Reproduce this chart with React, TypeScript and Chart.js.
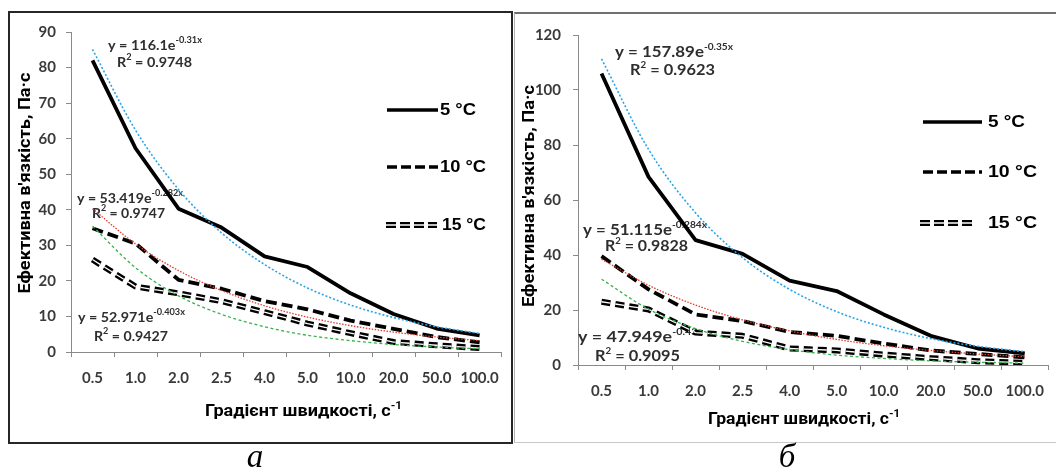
import { useEffect, useRef } from "react";
import { Chart, registerables } from "chart.js";

Chart.register(...registerables);

// ---------- data ----------
const categories = ["0.5", "1.0", "2.0", "2.5", "4.0", "5.0", "10.0", "20.0", "50.0", "100.0"];
const seriesLabels = ["5 °C", "10 °C", "15 °C"];
const yTitle = "Ефективна в'язкість, Па·с";
const xTitle = "Градієнт швидкості, с";
const xTitleSup = "-1";
const panelLetters = ["а", "б"];

// panel а
const a5 = [82, 57.3, 40.3, 35, 26.9, 23.9, 16.5, 10.7, 6.6, 4.7];
const a10 = [34.8, 30.5, 20.3, 17.8, 14.3, 12, 8.8, 6.5, 4.2, 2.7];
const a15 = [26, 18.4, 16.5, 14.3, 11.2, 8, 5.3, 2.8, 1.9, 1.1];
const aTrend5 = [85.1, 62.4, 45.7, 33.5, 24.6, 18.0, 13.2, 9.7, 7.1, 5.2];
const aTrend10 = [40.3, 30.4, 22.9, 17.3, 13.0, 9.8, 7.4, 5.6, 4.2, 3.2];
const aTrend15 = [35.4, 23.7, 15.8, 10.6, 7.1, 4.7, 3.2, 2.1, 1.4, 0.9];
const aEq = ["y = 116.1e", "-0.31x", "0.9748", "y = 53.419e", "-0.282x", "0.9747", "y = 52.971e", "-0.403x", "0.9427"];
const aYMax = 90;
const aYStep = 10;

// panel б
const b5 = [106, 68.4, 45.4, 40.4, 30.7, 26.9, 18.4, 10.6, 6, 4.2];
const b10 = [39.6, 27.5, 18.4, 16, 12, 10.6, 7.8, 5.3, 4, 2.8];
const b15 = [23, 20.2, 11.8, 10.6, 6, 5.3, 3.8, 2.5, 1.4, 0.8];
const bTrend5 = [111.3, 78.4, 55.3, 39.0, 27.5, 19.4, 13.7, 9.6, 6.8, 4.8];
const bTrend10 = [38.5, 29.0, 21.8, 16.4, 12.4, 9.3, 7.0, 5.3, 4.0, 3.0];
const bTrend15 = [31.2, 20.3, 13.2, 8.6, 5.6, 3.6, 2.4, 1.5, 1.0, 0.65];
const bEq = ["y = 157.89e", "-0.35x", "0.9623", "y = 51.115e", "-0.284x", "0.9828", "y = 47.949e", "-0.43x", "0.9095"];
const bYMax = 120;
const bYStep = 20;

// ---------- styling ----------
const FONT_TICK = 'Lato, "Open Sans", "Liberation Sans", sans-serif';
const FONT_EQ = 'Lato, "Open Sans", "Liberation Sans", sans-serif';
const FONT_TITLE = '"Liberation Sans Narrow", Roboto, "Liberation Sans", sans-serif';
const FONT_LEG = '"Liberation Sans", Arial, sans-serif';
const AXIS_COLOR = "#8a8a8a";
const TICK_COLOR = "#3a3a3a";
const EQ_COLOR = "#2e2e2e";
const BLUE = "#2aa4e8";
const RED = "#e23b2e";
const GREEN = "#35b34a";

type Seg = [string, boolean];

function drawRich(
  ctx: CanvasRenderingContext2D,
  segs: Seg[],
  x: number,
  y: number,
  w: number,
  size: number,
  family: string,
  color: string,
  rotate = false
) {
  ctx.save();
  const base = `bold ${size}px ${family}`;
  const supSize = Math.round(size * 0.62);
  const sup = `bold ${supSize}px ${family}`;
  let total = 0;
  const widths = segs.map(([t, s]) => {
    ctx.font = s ? sup : base;
    const m = ctx.measureText(t).width;
    total += m;
    return m;
  });
  const sx = Math.max(0.6, Math.min(1.4, w / total));
  ctx.translate(x, y);
  if (rotate) ctx.rotate(-Math.PI / 2);
  ctx.scale(sx, 1);
  ctx.fillStyle = color;
  ctx.textBaseline = "middle";
  ctx.textAlign = "left";
  let cx = rotate ? -total / 2 : 0;
  segs.forEach(([t, s], i) => {
    ctx.font = s ? sup : base;
    ctx.fillText(t, cx, s ? -size * 0.36 : 0);
    cx += widths[i];
  });
  ctx.restore();
}

type LineKind = "solid" | "dash" | "double";

function strokeKind(ctx: CanvasRenderingContext2D, kind: LineKind, x1: number, x2: number, y: number) {
  ctx.save();
  ctx.lineCap = "butt";
  const seg = () => {
    ctx.beginPath();
    ctx.moveTo(x1, y);
    ctx.lineTo(x2, y);
    ctx.stroke();
  };
  if (kind === "solid") {
    ctx.strokeStyle = "#000";
    ctx.lineWidth = 3.5;
    seg();
  } else if (kind === "dash") {
    ctx.strokeStyle = "#000";
    ctx.lineWidth = 3.5;
    ctx.setLineDash([10, 4]);
    seg();
  } else {
    ctx.strokeStyle = "#000";
    ctx.lineWidth = 6;
    ctx.setLineDash([10, 4]);
    seg();
    ctx.strokeStyle = "#fff";
    ctx.lineWidth = 1.3;
    seg();
  }
  ctx.restore();
}

interface Panel {
  left: number;
  top: number;
  width: number;
  height: number;
  padTop: number;
  padRight: number;
  yWidth: number;
  xHeight: number;
  yPad: number;
  yMax: number;
  yStep: number;
  s5: number[];
  s10: number[];
  s15: number[];
  t5: number[];
  t10: number[];
  t15: number[];
  eq: string[];
  eqPos: { x: number; y: number; w: number }[];
  eqSize: number;
  legend: { y: number; x1: number; x2: number; tx: number; tw: number }[];
  legSize: number;
  yTitlePos: { x: number; y: number; w: number };
  xTitlePos: { x: number; y: number; w: number };
  titleSize: number;
}

function overlay(p: Panel) {
  return {
    id: "overlay",
    beforeDatasetsDraw(chart: Chart) {
      const ctx = chart.ctx;
      const ox = p.left;
      const oy = p.top;
      // equations
      for (let k = 0; k < 3; k++) {
        const pe = p.eqPos[2 * k];
        drawRich(ctx, [[p.eq[3 * k], false], [p.eq[3 * k + 1], true]], pe.x - ox, pe.y - oy, pe.w, p.eqSize, FONT_EQ, EQ_COLOR);
        const pr = p.eqPos[2 * k + 1];
        drawRich(ctx, [["R", false], ["2", true], [" = " + p.eq[3 * k + 2], false]], pr.x - ox, pr.y - oy, pr.w, p.eqSize, FONT_EQ, EQ_COLOR);
      }
      // legend
      const kinds: LineKind[] = ["solid", "dash", "double"];
      p.legend.forEach((l, i) => {
        strokeKind(ctx, kinds[i], l.x1 - ox, l.x2 - ox, l.y - oy);
        drawRich(ctx, [[seriesLabels[i], false]], l.tx - ox, l.y - oy + 0.5, l.tw, p.legSize, FONT_LEG, "#000");
      });
      // axis titles
      drawRich(ctx, [[yTitle, false]], p.yTitlePos.x - ox, p.yTitlePos.y - oy, p.yTitlePos.w, p.titleSize, FONT_TITLE, "#000", true);
      drawRich(ctx, [[xTitle, false], [xTitleSup, true]], p.xTitlePos.x - ox, p.xTitlePos.y - oy, p.xTitlePos.w, p.titleSize, FONT_TITLE, "#000");
    },
  };
}

function buildDatasets(p: Panel) {
  const trend = (data: number[], color: string, width: number, dash: number[]) => ({
    label: "trend",
    data,
    borderColor: color,
    borderWidth: width,
    borderDash: dash,
    tension: 0.4,
    cubicInterpolationMode: "monotone" as const,
    order: 1,
  });
  return [
    trend(p.t5, BLUE, 1.6, [2, 2]),
    trend(p.t10, RED, 1.3, [1.5, 1.5]),
    trend(p.t15, GREEN, 1.3, [3, 2.5]),
    { label: seriesLabels[2] + " inner", data: p.s15, borderColor: "#fff", borderWidth: 1.3, borderDash: [9, 5], order: 3 },
    { label: seriesLabels[0], data: p.s5, borderColor: "#000", borderWidth: 3.8, order: 4 },
    { label: seriesLabels[1], data: p.s10, borderColor: "#000", borderWidth: 3.8, borderDash: [11, 5], order: 4 },
    { label: seriesLabels[2], data: p.s15, borderColor: "#000", borderWidth: 6, borderDash: [9, 5], order: 4 },
  ];
}

function makeConfig(p: Panel): any {
  const tickFont = { family: FONT_TICK, size: 15, weight: "bold" as const };
  return {
    type: "line",
    data: { labels: categories, datasets: buildDatasets(p) },
    options: {
      animation: false,
      responsive: false,
      devicePixelRatio: 1,
      layout: { padding: { left: 0, top: p.padTop, right: p.padRight, bottom: 0 } },
      plugins: { legend: { display: false }, tooltip: { enabled: false }, title: { display: false } },
      elements: {
        point: { radius: 0, hoverRadius: 0 },
        line: { borderJoinStyle: "round", borderCapStyle: "butt", fill: false },
      },
      scales: {
        x: {
          type: "category",
          offset: true,
          grid: { offset: true, drawOnChartArea: false, drawTicks: true, tickLength: 5, color: AXIS_COLOR, lineWidth: 1 },
          border: { display: true, color: AXIS_COLOR, width: 1 },
          ticks: { autoSkip: false, maxRotation: 0, minRotation: 0, padding: 12, color: TICK_COLOR, font: tickFont },
          afterFit: (s: any) => {
            s.height = p.xHeight;
          },
        },
        y: {
          min: 0,
          max: p.yMax,
          grid: { drawOnChartArea: false, drawTicks: true, tickLength: 5, color: AXIS_COLOR, lineWidth: 1 },
          border: { display: true, color: AXIS_COLOR, width: 1 },
          ticks: { stepSize: p.yStep, padding: p.yPad, color: TICK_COLOR, font: tickFont },
          afterFit: (s: any) => {
            s.width = p.yWidth;
          },
        },
      },
    },
    plugins: [overlay(p)],
  };
}

const panelA: Panel = {
  left: 10,
  top: 13,
  width: 501,
  height: 429,
  padTop: 11,
  padRight: 4,
  yWidth: 61,
  xHeight: 90,
  yPad: 10,
  yMax: aYMax,
  yStep: aYStep,
  s5: a5,
  s10: a10,
  s15: a15,
  t5: aTrend5,
  t10: aTrend10,
  t15: aTrend15,
  eq: aEq,
  eqPos: [
    { x: 108, y: 45, w: 94 },
    { x: 117, y: 62, w: 75 },
    { x: 77, y: 198, w: 106 },
    { x: 92, y: 213, w: 73 },
    { x: 78, y: 317, w: 107 },
    { x: 94, y: 336, w: 74 },
  ],
  eqSize: 14,
  legend: [
    { y: 110, x1: 387, x2: 438, tx: 440, tw: 36 },
    { y: 167, x1: 387, x2: 438, tx: 440, tw: 46 },
    { y: 225, x1: 386, x2: 437, tx: 442, tw: 44 },
  ],
  legSize: 16,
  yTitlePos: { x: 26, y: 183, w: 221 },
  xTitlePos: { x: 205, y: 412, w: 197 },
  titleSize: 17,
};

const panelB: Panel = {
  left: 516,
  top: 14,
  width: 540,
  height: 427,
  padTop: 12,
  padRight: 1,
  yWidth: 62,
  xHeight: 76,
  yPad: 12,
  yMax: bYMax,
  yStep: bYStep,
  s5: b5,
  s10: b10,
  s15: b15,
  t5: bTrend5,
  t10: bTrend10,
  t15: bTrend15,
  eq: bEq,
  eqPos: [
    { x: 615, y: 52, w: 118 },
    { x: 630, y: 70, w: 85 },
    { x: 583, y: 230, w: 124 },
    { x: 605, y: 246, w: 83 },
    { x: 578, y: 337, w: 125 },
    { x: 595, y: 356, w: 85 },
  ],
  eqSize: 15,
  legend: [
    { y: 122, x1: 923, x2: 982, tx: 988, tw: 37 },
    { y: 172, x1: 923, x2: 982, tx: 988, tw: 49 },
    { y: 223, x1: 920, x2: 973, tx: 988, tw: 49 },
  ],
  legSize: 17,
  yTitlePos: { x: 530, y: 196, w: 222 },
  xTitlePos: { x: 708, y: 420, w: 192 },
  titleSize: 17,
};

export default function App() {
  const refA = useRef<HTMLCanvasElement>(null);
  const refB = useRef<HTMLCanvasElement>(null);

  useEffect(() => {
    const ca = new Chart(refA.current as HTMLCanvasElement, makeConfig(panelA));
    const cb = new Chart(refB.current as HTMLCanvasElement, makeConfig(panelB));
    return () => {
      ca.destroy();
      cb.destroy();
    };
  }, []);

  const letterStyle = (cx: number): React.CSSProperties => ({
    position: "absolute",
    left: cx - 30,
    width: 60,
    top: 440,
    textAlign: "center",
    font: 'italic 33px/33px "Liberation Serif", "Times New Roman", serif',
    color: "#000",
  });

  return (
    <div
      style={{
        position: "absolute",
        left: 0,
        top: 0,
        width: 1056,
        height: 472,
        overflow: "hidden",
        background: "#fff",
      }}
    >
      <div
        style={{
          position: "absolute",
          left: 8,
          top: 11,
          width: 505,
          height: 433,
          border: "2px solid #262626",
          boxSizing: "border-box",
        }}
      />
      <div
        style={{
          position: "absolute",
          left: 514,
          top: 12,
          width: 560,
          height: 431,
          borderTop: "2px solid #707070",
          borderLeft: "1px solid #b4b4b4",
          borderBottom: "1px solid #c8c8c8",
          boxSizing: "border-box",
        }}
      />
      <canvas
        ref={refA}
        width={panelA.width}
        height={panelA.height}
        style={{ position: "absolute", left: panelA.left, top: panelA.top, width: panelA.width, height: panelA.height }}
      />
      <canvas
        ref={refB}
        width={panelB.width}
        height={panelB.height}
        style={{ position: "absolute", left: panelB.left, top: panelB.top, width: panelB.width, height: panelB.height }}
      />
      <div style={letterStyle(255)}>{panelLetters[0]}</div>
      <div style={letterStyle(787)}>{panelLetters[1]}</div>
    </div>
  );
}
